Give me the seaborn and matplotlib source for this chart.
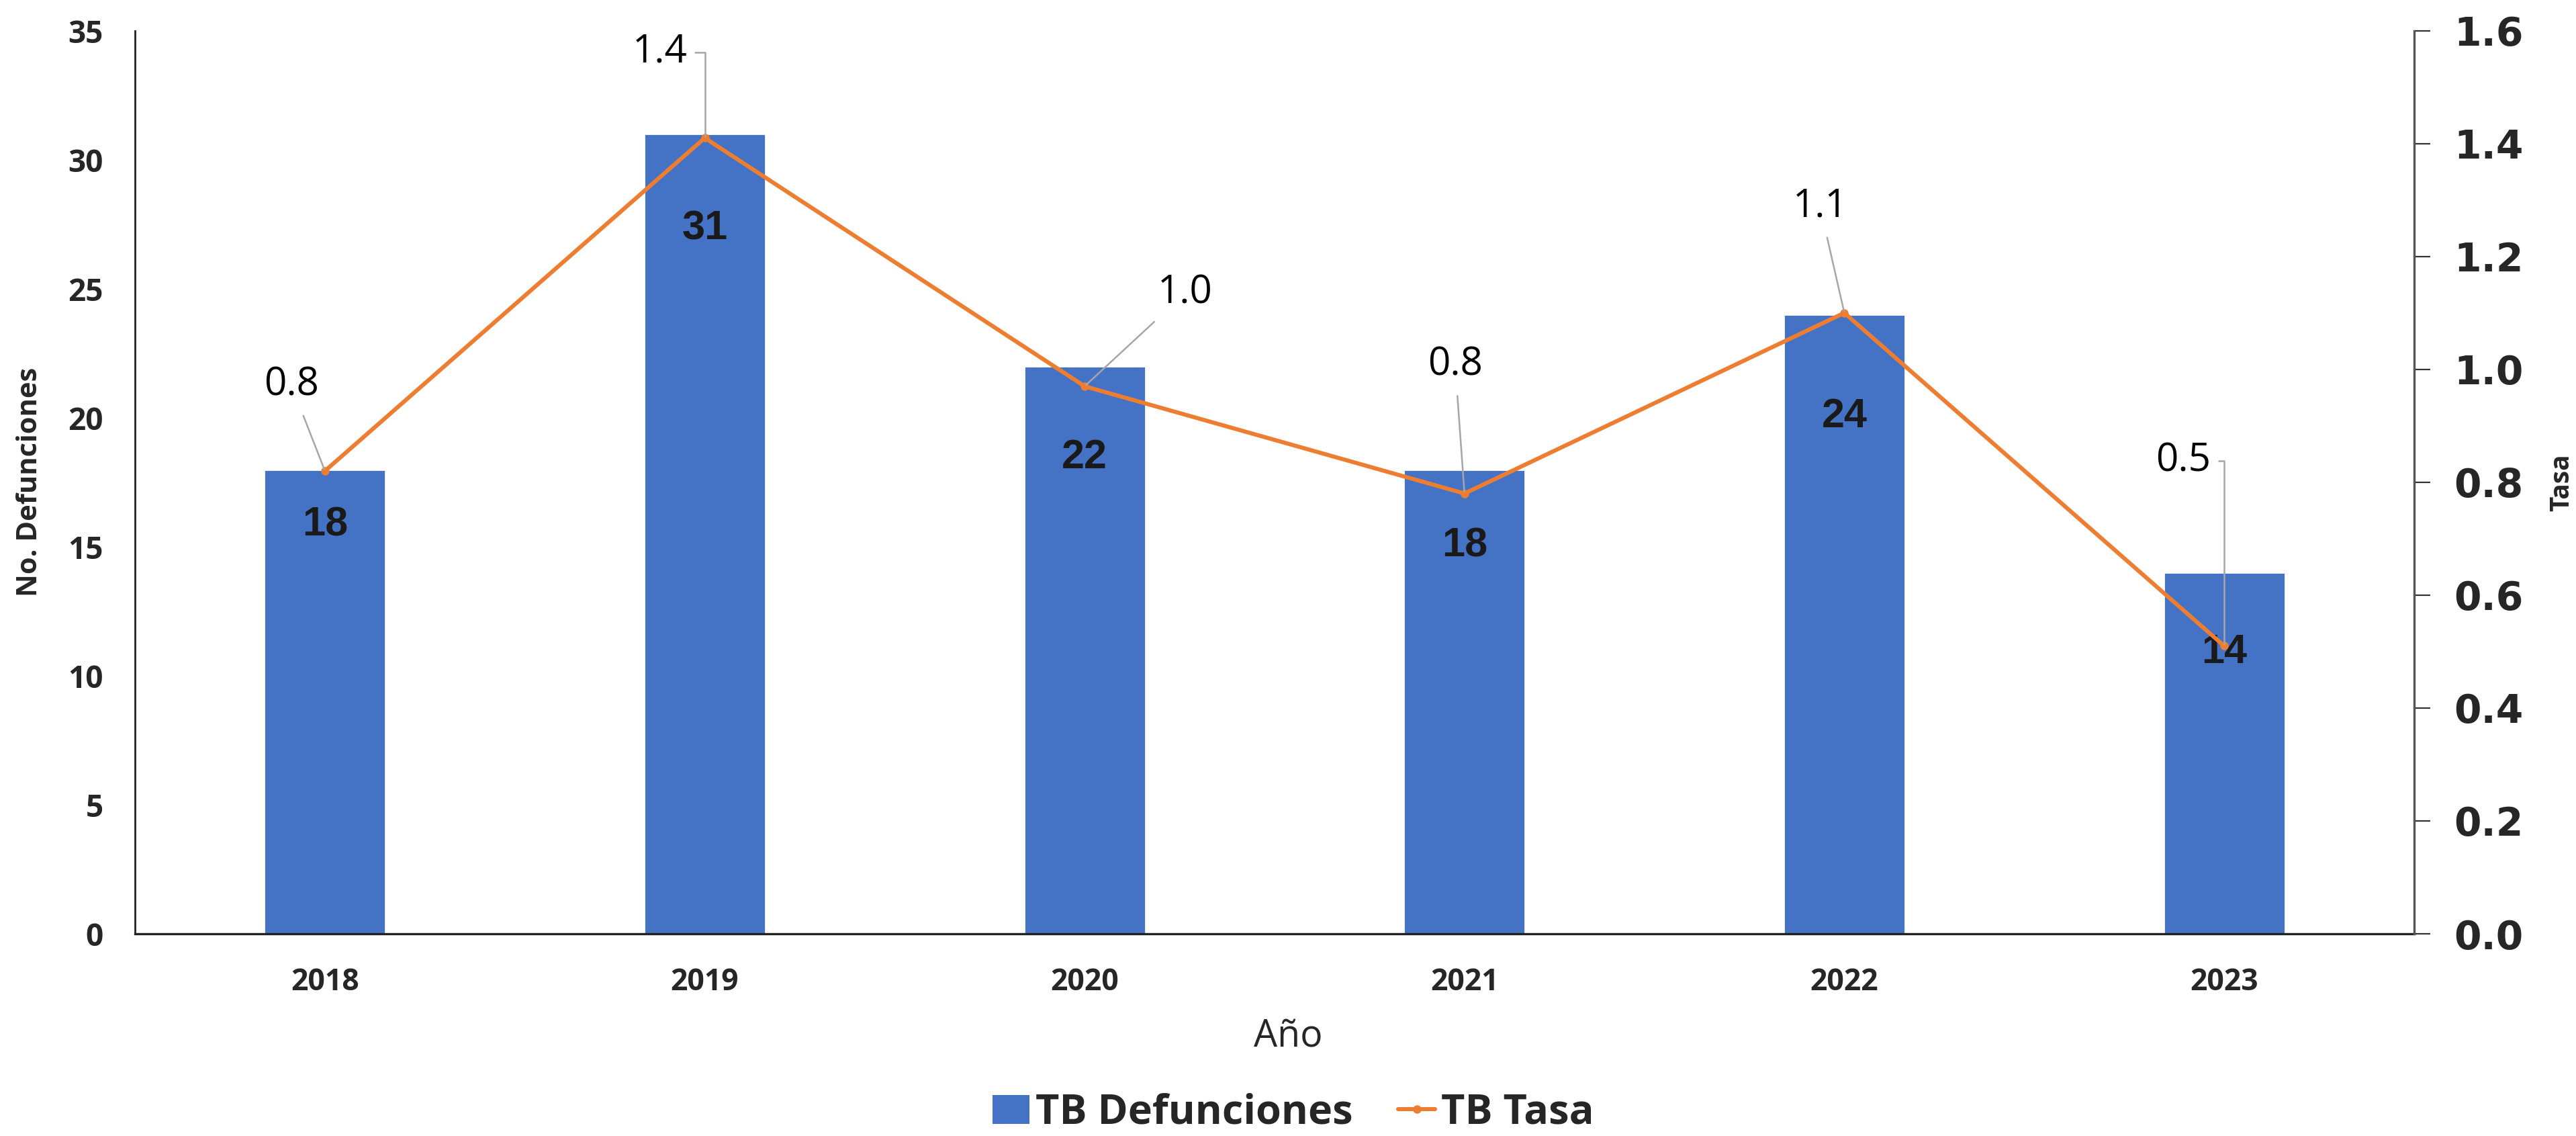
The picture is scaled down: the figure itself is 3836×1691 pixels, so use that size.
import matplotlib
matplotlib.use('Agg')
import matplotlib.pyplot as plt
import pandas as pd
import seaborn as sns
from matplotlib.lines import Line2D
from matplotlib.patches import Patch

# Data
years = ['2018', '2019', '2020', '2021', '2022', '2023']
defunciones = [18, 31, 22, 18, 24, 14]
tasa = [0.82, 1.41, 0.97, 0.78, 1.10, 0.51]
tasa_labels = ['0.8', '1.4', '1.0', '0.8', '1.1', '0.5']

BLUE = '#4472C4'
ORANGE = '#ED7D31'
GREY = '#A6A6A6'

sns.set_style('white')
plt.rcParams['font.family'] = ['Open Sans', 'DejaVu Sans']

df = pd.DataFrame({'year': years, 'defunciones': defunciones, 'tasa': tasa})

fig = plt.figure(figsize=(19.185, 8.455), dpi=200)
ax = fig.add_axes([0.0524, 0.178, 0.8845, 0.795])

sns.barplot(data=df, x='year', y='defunciones', color=BLUE, width=0.32,
            saturation=1, ax=ax, zorder=2)
ax.set_xlim(-0.5, 5.5)
ax.set_ylim(0, 35)
ax.set_yticks(range(0, 36, 5))
ax.tick_params(axis='y', length=0, pad=17, labelsize=16.5)
ax.tick_params(axis='x', length=0, pad=18, labelsize=16)
for t in ax.get_yticklabels() + ax.get_xticklabels():
    t.set_fontweight('bold')

ax.set_xlabel('Año', fontsize=20)
ax.xaxis.set_label_coords(0.506, -0.093)
ax.set_ylabel('No. Defunciones', fontsize=15, fontweight='bold')
ax.yaxis.set_label_coords(-0.04, 0.5)

for side in ['top', 'right']:
    ax.spines[side].set_visible(False)
ax.spines['left'].set_color('#222222')
ax.spines['left'].set_linewidth(1.0)
ax.spines['bottom'].set_color('#222222')
ax.spines['bottom'].set_linewidth(1.2)

# bar labels inside end
bar_offsets = [-30, -51, -49, -41, -55, -43]
for i, v in enumerate(defunciones):
    ax.annotate(str(v), (i, v), xytext=(0, bar_offsets[i]),
                textcoords='offset points', ha='center', va='center',
                fontsize=22, fontweight='bold', family='Liberation Sans',
                color='#1A1A1A', zorder=5)

# line on secondary axis
ax2 = ax.twinx()
sns.lineplot(data=df, x='year', y='tasa', color=ORANGE, linewidth=2.2,
             marker='o', markersize=4.5, markeredgewidth=0, ax=ax2, zorder=4)
ax2.set_ylim(0, 1.6)
ax2.set_yticks([0, 0.2, 0.4, 0.6, 0.8, 1.0, 1.2, 1.4, 1.6])
ax2.set_yticklabels([f'{v:.1f}' for v in ax2.get_yticks()],
                    family='DejaVu Sans', fontweight='bold', fontsize=21)
ax2.tick_params(axis='y', length=8.5, width=0.8, color='#333333', pad=13)
ax2.set_ylabel('Tasa', fontsize=14, fontweight='bold')
ax2.yaxis.set_label_coords(1.059, 0.5)
for side in ['top', 'left', 'bottom']:
    ax2.spines[side].set_visible(False)
ax2.spines['right'].set_color('#555555')
ax2.spines['right'].set_linewidth(1.2)
ax2.set_xlabel('')

# tasa labels with leader lines
label_offsets = [(-18, 46), (-24, 46), (54, 50), (-5, 69), (-13, 57), (-22, 99)]
elbow = [False, True, False, False, False, True]
for i, v in enumerate(tasa):
    dx, dy = label_offsets[i]
    if elbow[i]:
        conn = 'angle,angleA=0,angleB=90,rad=0'
        shrink_a = 2
    else:
        conn = 'arc3'
        shrink_a = 4
    ax2.annotate(tasa_labels[i], (i, v), xytext=(dx, dy),
                 textcoords='offset points', ha='center', va='center',
                 fontsize=21, color='black', zorder=6,
                 arrowprops=dict(arrowstyle='-', color=GREY, lw=0.9,
                                 connectionstyle=conn, shrinkA=shrink_a,
                                 shrinkB=1))

handles = [Patch(facecolor=BLUE, edgecolor='none'),
           Line2D([0], [0], color=ORANGE, lw=2.2, marker='o', markersize=4.5,
                  markeredgewidth=0)]
fig.legend(handles, ['TB Defunciones', 'TB Tasa'], loc='center',
           bbox_to_anchor=(0.502, 0.02), ncol=2, frameon=False,
           prop={'size': 22, 'weight': 'bold'}, handlelength=0.9,
           handletextpad=0.15, columnspacing=1.1)

fig.savefig('out.png', dpi=200, facecolor='white')
